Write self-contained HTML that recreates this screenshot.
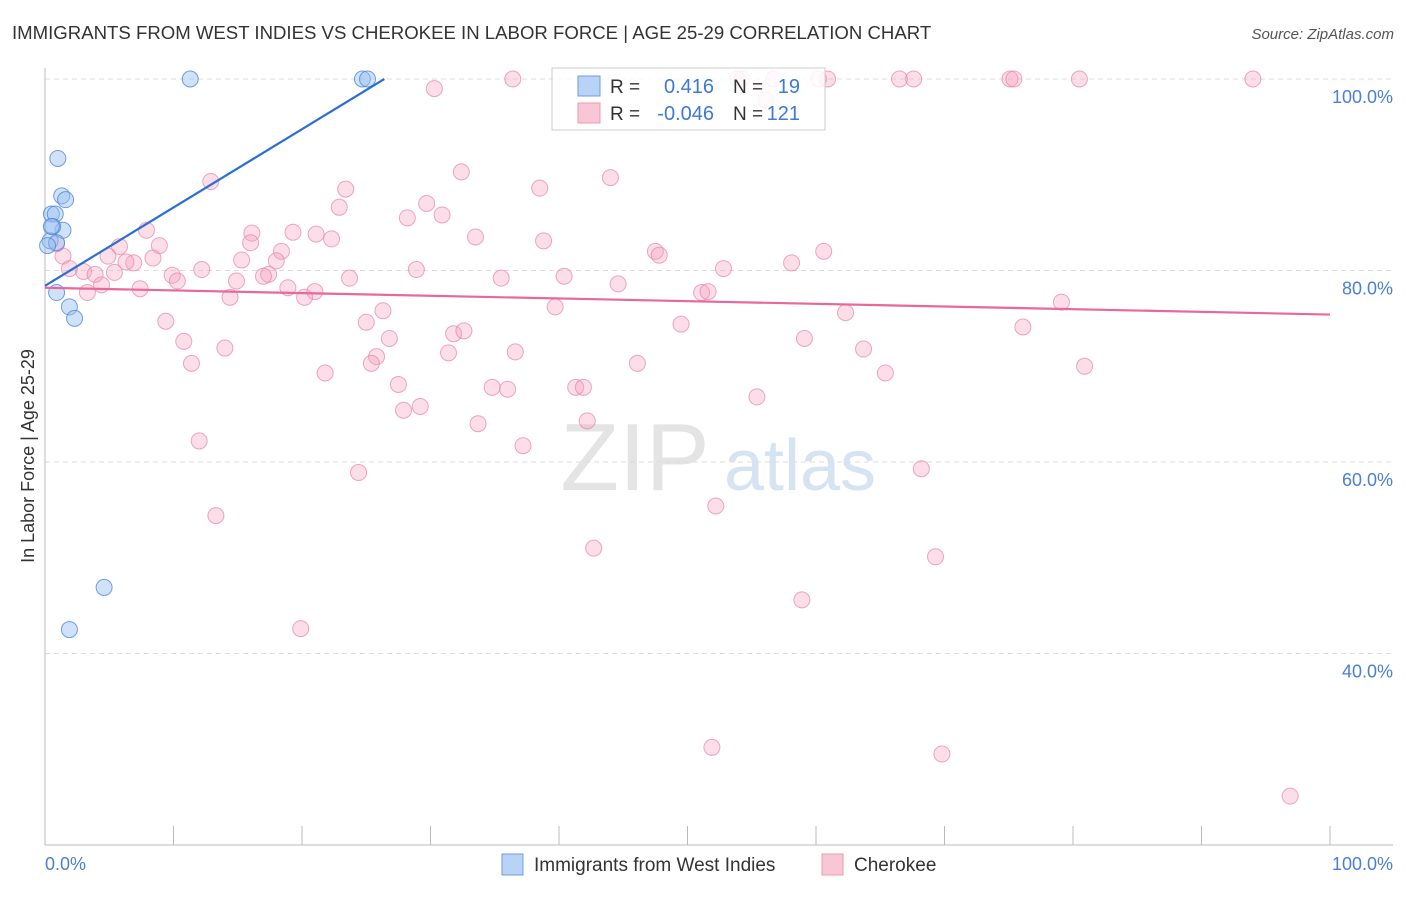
<!DOCTYPE html>
<html><head><meta charset="utf-8"><style>
body{margin:0;background:#fff;font-family:"Liberation Sans",sans-serif;}
svg text{font-family:"Liberation Sans",sans-serif;}
</style></head><body>
<svg id="chart" width="1406" height="892" xmlns="http://www.w3.org/2000/svg">
<text x="12" y="39" font-size="18.6" fill="#333">IMMIGRANTS FROM WEST INDIES VS CHEROKEE IN LABOR FORCE | AGE 25-29 CORRELATION CHART</text>
<text x="1394" y="39" font-size="15" fill="#555" font-style="italic" text-anchor="end">Source: ZipAtlas.com</text>
<text transform="translate(34,456) rotate(-90)" font-size="18" fill="#333" text-anchor="middle">In Labor Force | Age 25-29</text>
<g>
<text x="635" y="490" font-size="96" fill="#e4e4e4" font-family="Liberation Serif" text-anchor="middle">ZIP</text>
<text x="800" y="490" font-size="72" fill="#d6e3f3" text-anchor="middle">atlas</text>
</g>
<g id="grid"></g>
<g id="axes"></g>
<g id="marks"></g>
<g>
<rect x="552" y="68" width="273" height="62" fill="#fff" fill-opacity="0.85" stroke="#ccc"/>
<rect x="578" y="76" width="22" height="20" fill="#b8d3f5" stroke="#6b9ee6"/>
<rect x="578" y="103" width="22" height="20" fill="#f9c6d6" stroke="#ec9ab4"/>
<text x="610" y="93" font-size="19" fill="#333">R =</text>
<text x="714" y="93" font-size="20" fill="#3f78d6" text-anchor="end">0.416</text>
<text x="733" y="93" font-size="19" fill="#333">N =</text>
<text x="800" y="93" font-size="20" fill="#3f78d6" text-anchor="end">19</text>
<text x="610" y="120" font-size="19" fill="#333">R =</text>
<text x="714" y="120" font-size="20" fill="#3f78d6" text-anchor="end">-0.046</text>
<text x="733" y="120" font-size="19" fill="#333">N =</text>
<text x="800" y="120" font-size="20" fill="#3f78d6" text-anchor="end">121</text>
</g>
<g>
<rect x="502" y="854" width="21" height="21" fill="#b8d3f5" stroke="#6b9ee6"/>
<text x="534" y="871" font-size="19" fill="#333">Immigrants from West Indies</text>
<rect x="822" y="854" width="21" height="21" fill="#f9c6d6" stroke="#ec9ab4"/>
<text x="854" y="871" font-size="19" fill="#333">Cherokee</text>
</g>
</svg>
<script>
const blueX=[11.3,24.7,25.1,1.0,1.3,1.6,0.5,0.8,1.4,0.6,0.4,0.9,0.2,0.9,1.9,2.3,4.6,1.9,0.5];
const blueY=[100,100,100,91.7,87.8,87.4,85.9,85.9,84.2,84.6,83.1,82.9,82.6,77.7,76.2,75.0,46.9,42.5,84.6];
const pinkX=[36.4,30.3,53.9,54.2,56.7,60.2,60.9,66.5,67.6,75.1,75.4,80.5,94.0,56.1,32.4,44.0,12.9,23.4,38.5,22.9,29.7,28.2,30.9,7.9,16.1,19.3,21.1,33.5,22.3,38.8,16.0,0.9,8.9,5.8,18.4,47.5,47.8,60.6,4.9,1.4,8.4,15.3,6.9,18.0,6.3,1.9,3.0,58.1,52.8,12.2,28.9,17.4,17.0,9.9,3.9,5.4,10.3,14.9,23.7,40.4,35.5,44.6,4.4,7.4,18.9,21.0,3.3,14.4,20.2,51.1,51.6,79.1,39.7,26.3,62.3,9.4,25.0,49.5,76.1,31.8,32.6,10.8,26.8,59.1,14.0,63.7,31.4,36.6,25.8,25.4,11.4,46.1,80.9,21.8,65.4,27.5,34.8,41.3,41.9,36.0,55.4,27.9,29.2,42.2,33.7,37.2,12.0,24.4,68.2,52.2,13.3,42.7,69.3,58.9,19.9,51.9,69.8,96.9];
const pinkY=[100,99.0,100,100,100,100,100,100,100,100,100,100,100,97.8,90.3,89.7,89.3,88.5,88.6,86.6,87.0,85.5,85.8,84.2,83.9,84.0,83.8,83.5,83.3,83.1,82.9,82.8,82.6,82.5,82.0,82.0,81.6,82.0,81.5,81.5,81.3,81.1,80.8,81.0,80.9,80.2,79.9,80.8,80.2,80.1,80.1,79.6,79.4,79.5,79.6,79.8,78.9,78.9,79.2,79.4,79.2,78.6,78.5,78.1,78.2,77.8,77.7,77.2,77.2,77.7,77.8,76.7,76.2,75.8,75.6,74.7,74.6,74.4,74.1,73.4,73.7,72.6,72.9,72.9,71.9,71.8,71.4,71.5,71.0,70.3,70.3,70.3,70.0,69.3,69.3,68.1,67.8,67.8,67.8,67.6,66.8,65.4,65.8,64.3,64.0,61.7,62.2,58.9,59.3,55.4,54.4,51.0,50.1,45.6,42.6,30.2,29.5,25.1];
const yTicks=[100,80,60,40];
const yTickLabels=["100.0%","80.0%","60.0%","40.0%"];
const xTicks=[0,10,20,30,40,50,60,70,80,90,100];
const blueFit=[78.4,0.818];   // intercept, slope
const pinkFit=[78.2,-0.028];

const NS="http://www.w3.org/2000/svg";
const xs=v=>45+v*12.85;
const ys=v=>79+(100-v)*9.575;
function mk(tag,attrs,parent){const e=document.createElementNS(NS,tag);for(const k in attrs)e.setAttribute(k,attrs[k]);parent.appendChild(e);return e;}
const grid=document.getElementById('grid'),axes=document.getElementById('axes'),marks=document.getElementById('marks');
yTicks.forEach((t,i)=>{
  const l=mk('line',{x1:45,x2:1393,y1:ys(t),y2:ys(t),stroke:'#ddd','stroke-dasharray':'5,4'},grid);
  
  
  const tx=mk('text',{x:1393,y:ys(t)+24,'font-size':18,fill:'#4a7fd4','text-anchor':'end'},axes);
  tx.textContent=yTickLabels[i];
  
  
});
const ax=mk('line',{x1:45,x2:45,y1:68,y2:845,stroke:'#bbb'},axes);


const bx=mk('line',{x1:45,x2:1393,y1:845,y2:845,stroke:'#bbb'},axes);


xTicks.forEach(t=>{
  const l=mk('line',{x1:xs(t),x2:xs(t),y1:826,y2:845,stroke:'#bbb'},axes);
  
  
});
const x0=mk('text',{x:45,y:870,'font-size':18,fill:'#4a7fd4'},axes);x0.textContent='0.0%';


const x1=mk('text',{x:1393,y:870,'font-size':18,fill:'#4a7fd4','text-anchor':'end'},axes);x1.textContent='100.0%';


pinkX.forEach((v,i)=>{
  const c=mk('circle',{cx:xs(v),cy:ys(pinkY[i]),r:8,fill:'rgba(244,160,188,0.35)',stroke:'rgba(232,130,165,0.7)','stroke-width':1},marks);
  
  
});
blueX.forEach((v,i)=>{
  const c=mk('circle',{cx:xs(v),cy:ys(blueY[i]),r:8,fill:'rgba(150,190,240,0.45)',stroke:'rgba(80,135,220,0.8)','stroke-width':1},marks);
  
  
});
const bEnd=(100-blueFit[0])/blueFit[1];
const bl=mk('line',{x1:xs(0),y1:ys(blueFit[0]),x2:xs(bEnd),y2:ys(100),stroke:'#2a6fd6','stroke-width':2.2},marks);


const pl=mk('line',{x1:xs(0),y1:ys(pinkFit[0]),x2:xs(100),y2:ys(pinkFit[0]+pinkFit[1]*100),stroke:'#e8689a','stroke-width':2.2},marks);


</script>
</body></html>
